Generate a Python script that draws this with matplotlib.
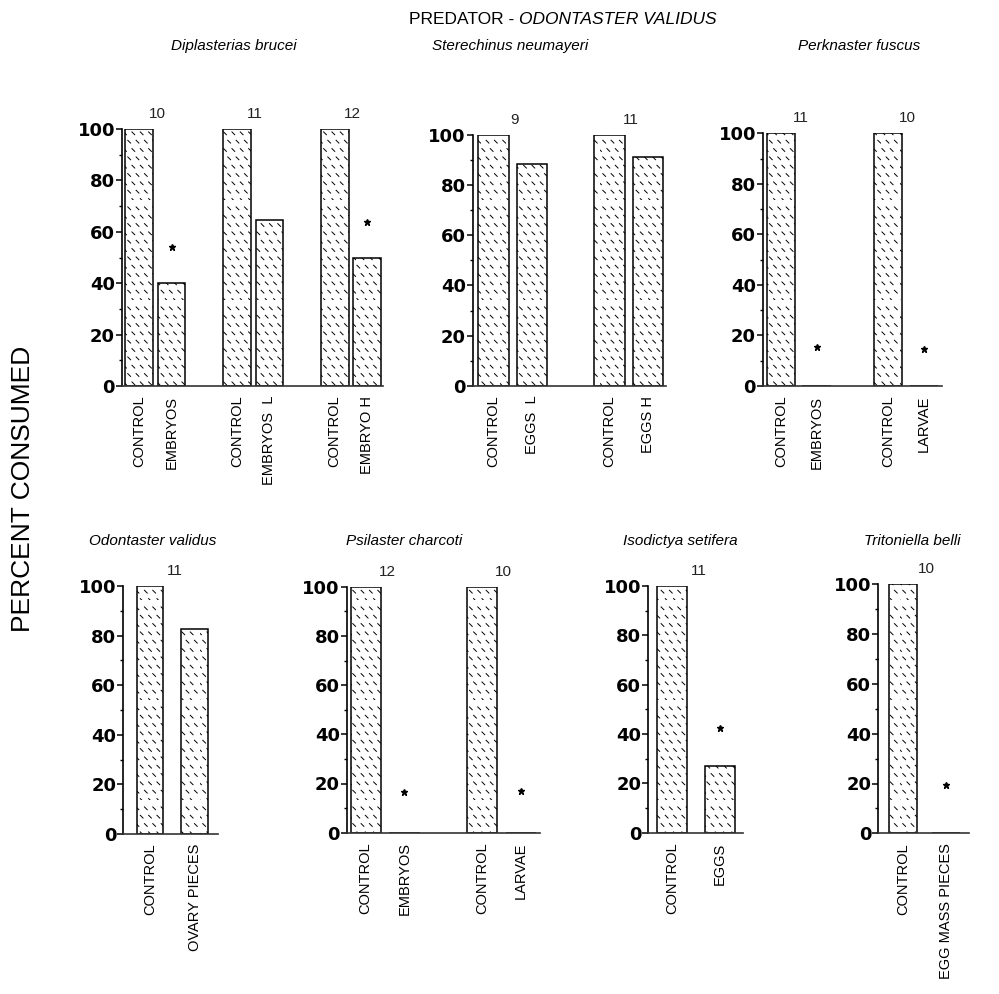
import matplotlib
matplotlib.use("Agg")
import numpy as np
import matplotlib.pyplot as plt
from matplotlib import hatch as mhatch
from matplotlib.path import Path
from matplotlib.ticker import MultipleLocator

plt.rcParams['font.family'] = ['Liberation Sans', 'DejaVu Sans']
plt.rcParams['hatch.linewidth'] = 0.7
plt.rcParams['hatch.color'] = '#222222'


# short "\" dashes on a staggered grid, used in place of the 'O' hatch
class DashHatch(mhatch.HatchPatternBase):
    N = 12
    D = 0.014

    def __init__(self, hatch, density):
        self.on = hatch.count('O') > 0
        self.num_vertices = 2 * self.N * self.N if self.on else 0

    def set_vertices_and_codes(self, vertices, codes):
        k = 0
        for j in range(self.N):
            for i in range(self.N):
                x = (i + 0.5 * (j % 2)) / self.N
                y = j / self.N
                vertices[k] = (x - self.D, y + self.D)
                vertices[k + 1] = (x + self.D, y - self.D)
                codes[k] = Path.MOVETO
                codes[k + 1] = Path.LINETO
                k += 2


mhatch._hatch_types = [DashHatch if c is mhatch.LargeCircles else c
                       for c in mhatch._hatch_types]

# data for each prey panel
titles = ["Diplasterias brucei", "Sterechinus neumayeri", "Perknaster fuscus",
          "Odontaster validus", "Psilaster charcoti", "Isodictya setifera",
          "Tritoniella belli"]

labels = [
    ["CONTROL", "EMBRYOS", "CONTROL", "EMBRYOS  L", "CONTROL", "EMBRYO H"],
    ["CONTROL", "EGGS  L", "CONTROL", "EGGS H"],
    ["CONTROL", "EMBRYOS", "CONTROL", "LARVAE"],
    ["CONTROL", "OVARY PIECES"],
    ["CONTROL", "EMBRYOS", "CONTROL", "LARVAE"],
    ["CONTROL", "EGGS"],
    ["CONTROL", "EGG MASS PIECES"],
]

values = [
    [100, 40, 100, 64.5, 100, 50],
    [100, 88.5, 100, 91],
    [100, 0, 100, 0],
    [100, 82.5],
    [100, 0, 100, 0],
    [100, 27],
    [100, 0],
]

# sample sizes, one per control/treatment pair
n_vals = [[10, 11, 12], [9, 11], [11, 10], [11], [12, 10], [11], [10]]

# significance stars (None = no star)
stars = [
    [None, 54, None, None, None, 64],
    [None, None, None, None],
    [None, 15.5, None, 14.5],
    [None, None],
    [None, 16.5, None, 17],
    [None, 42.5],
    [None, 19.5],
]

# layout in pixels: left, right, y at 0, y at 100
boxes = [
    (122, 383, 386, 129),
    (472.7, 666, 386, 134.7),
    (763, 942, 386, 133.3),
    (123.3, 218.3, 834, 586),
    (346.7, 540, 832.7, 586.7),
    (648.3, 743.3, 832.7, 586),
    (878.3, 969.3, 833.3, 584.3),
]
widths = [0.85, 0.78, 0.79, 0.6, 0.78, 0.64, 0.64]
xlims = [(-0.52, 7.48), (-0.54, 4.46), (-0.5, 4.51), (-0.6, 1.53),
         (-0.49, 4.5), (-0.5, 1.49), (-0.57, 1.54)]
title_pos = [(234, 46), (510, 46), (859, 46), (153, 541), (404, 541),
             (680, 541), (912, 541)]

W, H = 999, 994
fig = plt.figure(figsize=(W / 100, H / 100), dpi=100)

for i in range(len(titles)):
    l, r, y0, y100 = boxes[i]
    ax = fig.add_axes([l / W, 1 - y0 / H, (r - l) / W, (y0 - y100) / H])
    npairs = len(values[i]) // 2
    pos = []
    for p in range(npairs):
        pos += [3 * p, 3 * p + 1]
    ax.bar(pos, values[i], width=widths[i], color='white', edgecolor='black',
           linewidth=1.1, hatch='O', zorder=2)
    for x, s in zip(pos, stars[i]):
        if s is not None:
            ax.plot(x, s, marker='*', color='black', markersize=5, zorder=3,
                    clip_on=False)
    for p, n in enumerate(n_vals[i]):
        ax.text(3 * p + 0.55, 106, str(n), ha='center', va='center',
                fontsize=11, color='#222222')
    ax.set_xlim(*xlims[i])
    ax.set_ylim(0, 100)
    ax.set_xticks(pos)
    ax.set_xticklabels(labels[i], rotation=90, fontsize=10.5, va='top')
    ax.tick_params(axis='x', length=0, pad=7)
    ax.set_yticks([0, 20, 40, 60, 80, 100])
    ax.yaxis.set_minor_locator(MultipleLocator(10))
    ax.tick_params(axis='y', which='major', length=4, width=1.1, pad=1,
                   labelsize=13)
    ax.tick_params(axis='y', which='minor', length=2.5, width=1)
    for t in ax.get_yticklabels():
        t.set_family('DejaVu Sans')
        t.set_fontweight('bold')
    for sp in ['top', 'right']:
        ax.spines[sp].set_visible(False)
    ax.spines['left'].set_linewidth(1.2)
    ax.spines['bottom'].set_linewidth(1.2)
    ax.spines['bottom'].set_color('#333333')
    ax.patch.set_alpha(0)
    tx, ty = title_pos[i]
    fig.text(tx / W, 1 - ty / H, titles[i], ha='center', va='center',
             fontsize=11, style='italic')

fig.text(519 / W, 1 - 20 / H, "PREDATOR - ", ha='right', va='center',
         fontsize=12.5)
fig.text(519 / W, 1 - 20 / H, "ODONTASTER VALIDUS", ha='left', va='center',
         fontsize=12.5, style='italic')
fig.text(23 / W, 1 - 489 / H, "PERCENT CONSUMED", rotation=90, ha='center',
         va='center', fontsize=19)

fig.savefig("out.png", dpi=100)
